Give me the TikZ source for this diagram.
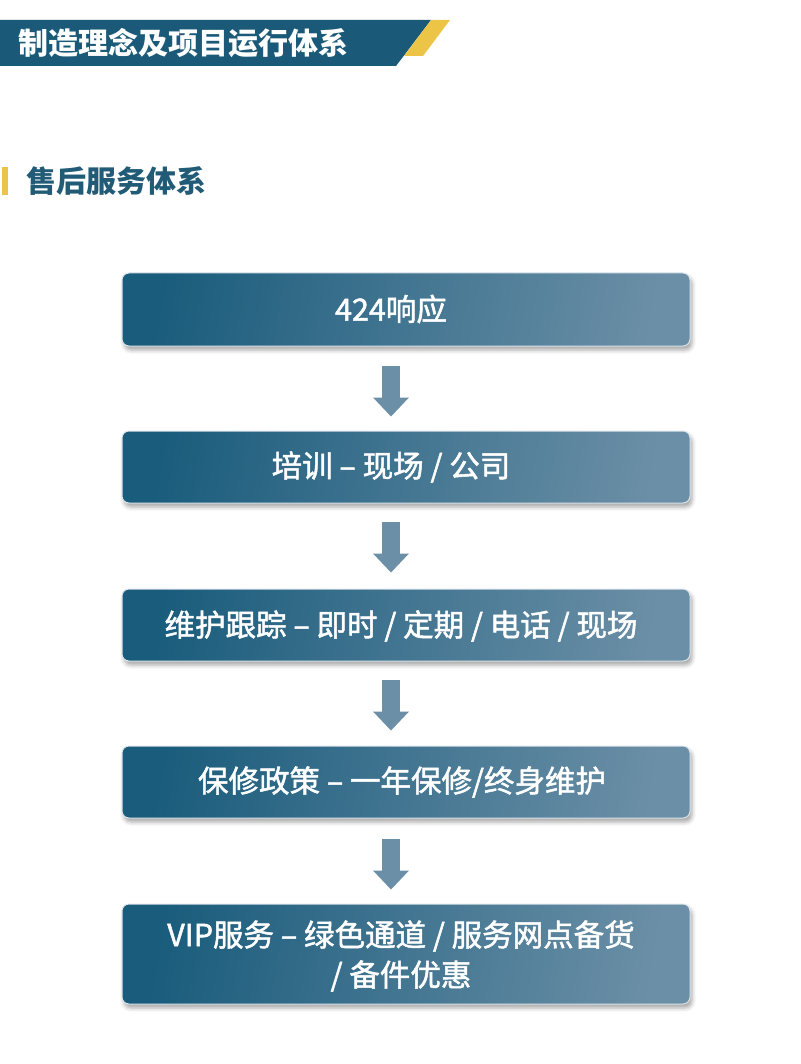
\documentclass[tikz,border=0pt]{standalone}
\usepackage{fontspec}
\setmainfont{Noto Sans CJK SC}
\newfontfamily\boxfont{Noto Sans CJK SC}[FakeBold=1.6]
\usetikzlibrary{calc,arrows.meta,shadows,shadows.blur}
\definecolor{hdrblue}{HTML}{1A5A78}
\definecolor{gold}{HTML}{ECC546}
\definecolor{titleblue}{HTML}{215B76}
\definecolor{boxdark}{HTML}{1A5C7C}
\definecolor{boxmid}{HTML}{386F8E}
\definecolor{boxlight}{HTML}{6B8FA6}
\definecolor{boxedge}{HTML}{DCE4EA}
\definecolor{arrowc}{HTML}{6B8FA6}
\tikzset{
  flowbox/.style={rectangle, rounded corners=7pt, minimum width=568pt, inner sep=0pt,
    left color=boxdark, middle color=boxmid, right color=boxlight, shading angle=80,
    draw=boxedge, line width=1pt,
    blur shadow={shadow xshift=2pt, shadow yshift=-4pt, shadow blur radius=4pt, shadow opacity=35}},
  boxtext/.style={text=white, inner sep=0pt, align=center, font=\boxfont\fontsize{30.5}{40}\selectfont},
  flowarrow/.style={draw=arrowc, line width=18pt,
    -{Triangle[width=36pt,length=19pt,line width=0pt]}},
}
\begin{document}
\begin{tikzpicture}[x=1pt,y=-1pt]
\useasboundingbox (0,0) rectangle (800,1064);
% header band
\fill[hdrblue] (0,20) -- (431,20) -- (396,66) -- (0,66) -- cycle;
\fill[gold] (431,20) -- (450,20) -- (423,56) -- (404,56) -- cycle;
\node[anchor=west, inner sep=0pt, text=white, font=\bfseries\fontsize{30}{34}\selectfont] (hdr) at (18,43) {制造理念及项目运行体系};
% section title
\fill[gold] (2,167) rectangle (8,195);
\node[anchor=west, inner sep=0pt, text=titleblue, font=\bfseries\fontsize{30}{34}\selectfont] (sec) at (26,181) {售后服务体系};
% boxes
\node[flowbox, minimum height=73pt] (b1) at (406,309.5) {};
\node[flowbox, minimum height=72pt] (b2) at (406,467) {};
\node[flowbox, minimum height=72pt] (b3) at (406,625) {};
\node[flowbox, minimum height=72pt] (b4) at (406,782) {};
\node[flowbox, minimum height=100pt] (b5) at (406,954) {};
% texts
\node[boxtext] (t1) at (391,309) {424响应};
\node[boxtext] (t2) at (391,467) {培训 – 现场 / 公司};
\node[boxtext] (t3) at (401,626) {维护跟踪 – 即时 / 定期 / 电话 / 现场};
\node[boxtext] (t4) at (402,782) {保修政策 – 一年保修/终身维护};
\node[boxtext] (t5) at (401,956) {VIP服务 – 绿色通道 / 服务网点备货\\/ 备件优惠};
% arrows
\draw[flowarrow] ($(b1.south)+(-15,19)$) -- ($(b2.north)+(-15,-14)$);
\draw[flowarrow] ($(b2.south)+(-15,18)$) -- ($(b3.north)+(-15,-16)$);
\draw[flowarrow] ($(b3.south)+(-15,18)$) -- ($(b4.north)+(-15,-15)$);
\draw[flowarrow] ($(b4.south)+(-15,20)$) -- ($(b5.north)+(-15,-14)$);
\end{tikzpicture}
\end{document}
